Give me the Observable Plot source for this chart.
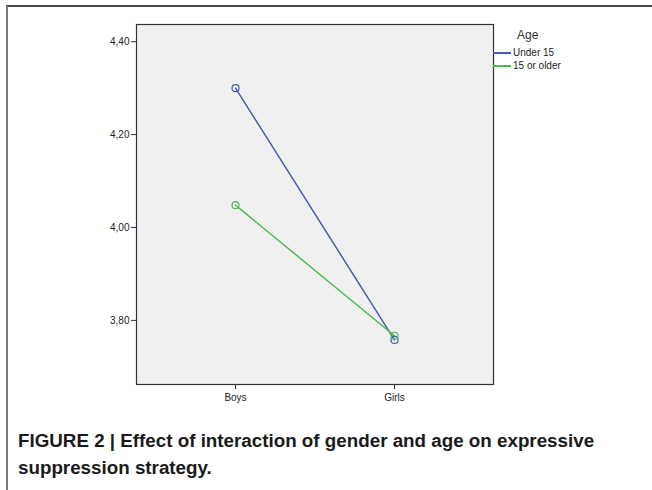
<!DOCTYPE html>
<html>
<head>
<meta charset="utf-8">
<script src="https://cdn.jsdelivr.net/npm/d3@7"></script>
<script src="https://cdn.jsdelivr.net/npm/@observablehq/plot@0.6"></script>
<style>
  html, body { margin: 0; padding: 0; background: #fff; }
  #wrap { position: relative; width: 652px; height: 490px; overflow: hidden; font-family: "Liberation Sans", Arial, sans-serif; }
  #frame { position: absolute; left: 6px; top: 5px; width: 660px; height: 500px; border-top: 2px solid #4a4a4a; border-left: 2px solid #7a7a7a; }
  #chart { position: absolute; left: 0; top: 0; }
  #legend { position: absolute; left: 493px; top: 28px; font-size: 10px; color: #222; }
  #legend .title { font-size: 12px; margin-left: 24px; margin-bottom: 4px; color: #333; }
  #legend .item { display: flex; align-items: center; height: 13px; }
  #legend .swatch { display: inline-block; width: 18px; height: 2px; margin-right: 2px; }
  #caption { position: absolute; left: 18px; top: 427px; width: 630px; font-family: "Liberation Sans", Arial, sans-serif; font-weight: bold; font-size: 18.8px; line-height: 27px; color: #1a1a1a; }
</style>
</head>
<body>
<div id="wrap">
  <div id="frame"></div>
  <div id="chart"></div>
  <div id="legend"></div>
  <div id="caption">FIGURE 2 | Effect of interaction of gender and age on expressive<br>suppression strategy.</div>
</div>
<script>
const genders = ["Boys", "Girls"];
const ageGroups = ["Under 15", "15 or older"];
const under15 = [4.30, 3.758];
const older15 = [4.048, 3.767];
const yTicks = [3.80, 4.00, 4.20, 4.40];
const colors = ["#4a5dab", "#4fbb55"];

const data = [];
genders.forEach((g, i) => {
  data.push({gender: g, age: ageGroups[0], value: under15[i]});
  data.push({gender: g, age: ageGroups[1], value: older15[i]});
});

const chart = Plot.plot({
  width: 652,
  height: 420,
  marginLeft: 136,
  marginRight: 159,
  marginTop: 24,
  marginBottom: 36,
  style: {fontFamily: "Liberation Sans, Arial, sans-serif", fontSize: "10px", color: "#222", background: "transparent"},
  x: {type: "point", domain: genders, padding: 0.616, label: null},
  y: {domain: [3.662, 4.437], label: null},
  color: {domain: ageGroups, range: colors},
  marks: [
    Plot.frame({fill: "#f0f0f0", stroke: "#333", strokeWidth: 1.2}),
    Plot.axisY({ticks: yTicks, tickSize: 5, tickFormat: d => d.toFixed(2).replace(".", ","), label: null, tickPadding: 2, stroke: "#333"}),
    Plot.axisX({tickSize: 5, label: null, tickPadding: 4, stroke: "#333"}),
    Plot.line(data, {x: "gender", y: "value", stroke: "age", strokeWidth: 1.5}),
    Plot.dot(data, {x: "gender", y: "value", stroke: "age", r: 3.5, strokeWidth: 1.2})
  ]
});
document.getElementById("chart").appendChild(chart);

const legend = document.getElementById("legend");
const t = document.createElement("div");
t.className = "title";
t.textContent = "Age";
legend.appendChild(t);
ageGroups.forEach((a, i) => {
  const it = document.createElement("div");
  it.className = "item";
  const sw = document.createElement("span");
  sw.className = "swatch";
  sw.style.background = colors[i];
  const lb = document.createElement("span");
  lb.textContent = a;
  it.appendChild(sw);
  it.appendChild(lb);
  legend.appendChild(it);
});
</script>
</body>
</html>
